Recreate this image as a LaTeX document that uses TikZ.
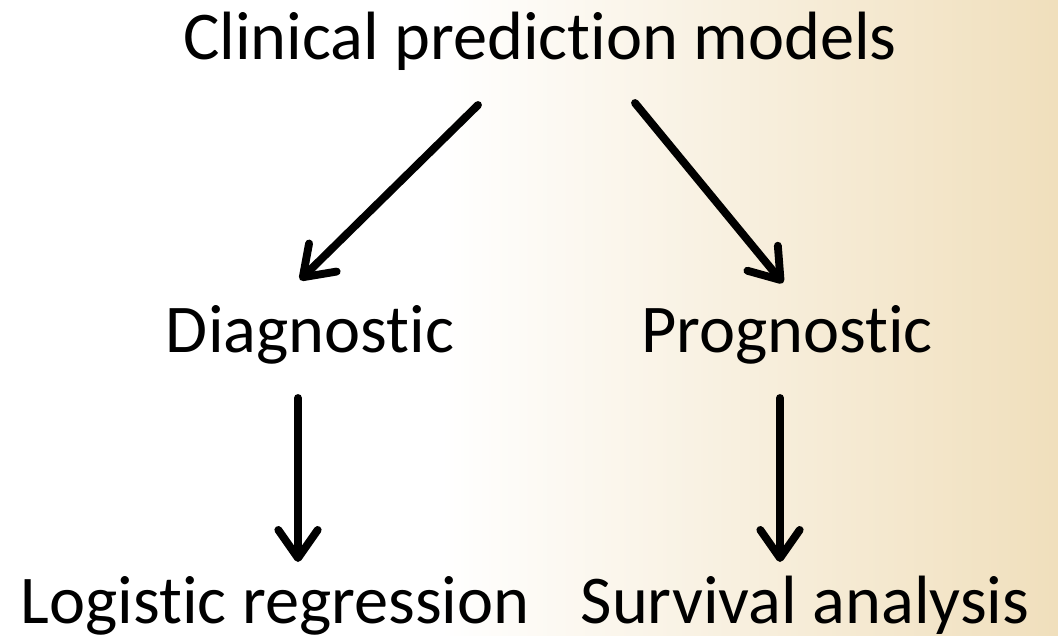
\documentclass[tikz,border=0pt]{standalone}
\usepackage{fontspec}
\setmainfont{Carlito}[RawFeature=-liga]
\usetikzlibrary{arrows.meta,calc}

\begin{document}
\begin{tikzpicture}[x=0.025cm,y=-0.025cm]
      \tikzstyle{term}=[anchor=base, inner sep=0pt, font=\fontsize{48.6}{52}\selectfont]
      \tikzstyle{branch}=[-{Straight Barb[length=20pt,width=28pt,line cap=round,line join=round]}, line width=5.6pt, line cap=round]
      \definecolor{sand}{RGB}{240,223,188}

      \fill[white] (0,0) rectangle (1058,636);
      \shade[left color=white, right color=sand] (440,0) rectangle (1058,636);
      \useasboundingbox (0,0) rectangle (1058,636);

      \node[term] (Clin) at (540,60) {Clinical prediction models};
      \node[term] (Diag) at (310,352) {Diagnostic};
      \node[term] (Prog) at (787,352) {Prognostic};
      \node[term] (Logi) at (275,623) {Logistic regression};
      \node[term] (Surv) at (805,623) {Survival analysis};
      \draw[branch] ($(Clin.base)+(-62,45)$)--($(Diag.base)+(-10,-72)$);
      \draw[branch] ($(Clin.base)+(95,43)$)--($(Prog.base)+(-4,-69)$);
      \draw[branch] ($(Diag.base)+(-12,46)$)--($(Logi.base)+(23,-61)$);
      \draw[branch] ($(Prog.base)+(-7,46)$)--($(Surv.base)+(-25,-61)$);

\end{tikzpicture}
\end{document}
